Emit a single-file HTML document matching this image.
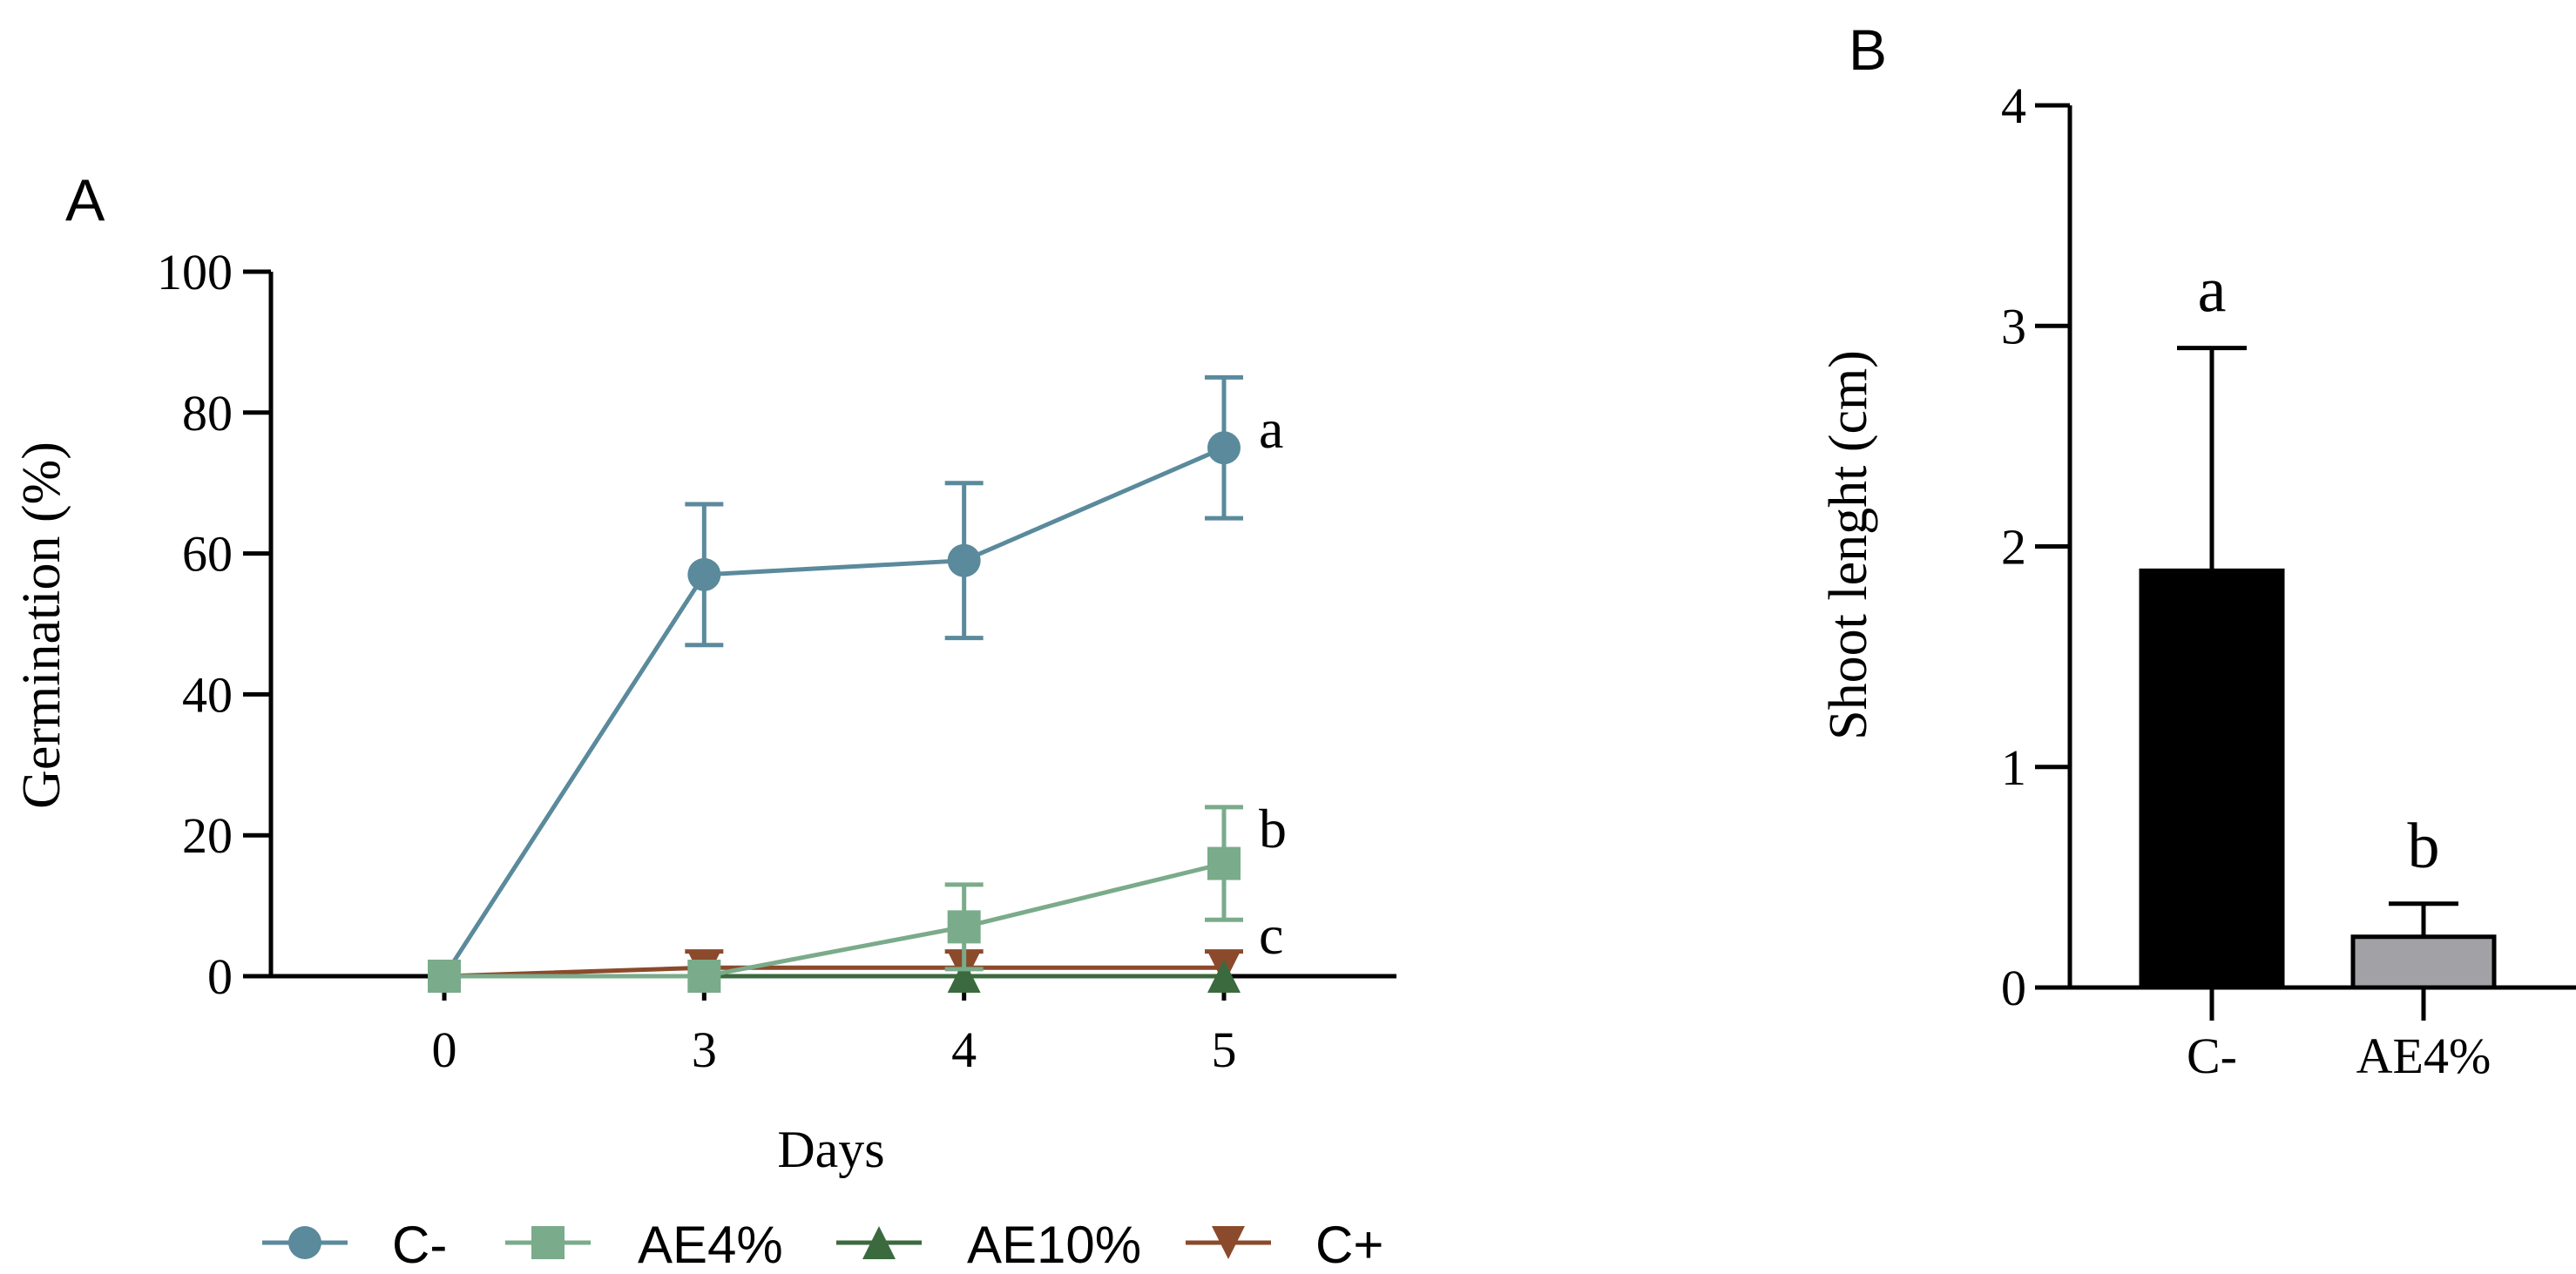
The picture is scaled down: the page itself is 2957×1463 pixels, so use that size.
<!DOCTYPE html>
<html><head><meta charset="utf-8"><style>
html,body{margin:0;padding:0;background:#fff;}
svg{display:block;}
.serif{font-family:"Liberation Serif",serif;}
.sans{font-family:"Liberation Sans",sans-serif;}
</style></head><body>
<svg id="chart" width="2957" height="1463" viewBox="0 0 2957 1463" xmlns="http://www.w3.org/2000/svg">
<text x="75" y="253" class="sans" font-size="68">A</text>
<text x="2122" y="80" class="sans" font-size="66">B</text>
<g id="gA"></g>
<g id="gB"></g>
</svg>
<script>
const days = ["0","3","4","5"];
const yTicksA = [0,20,40,60,80,100];
const cMinus = [0,57,59,75];
const cMinusErr = [0,10,11,10];
const ae4 = [0,0,7,16];
const ae4Err = [0,0,6,8];
const ae10 = [0,0,0,0];
const ae10Err = [0,0,0,0];
const cPlus = [0,1.2,1.2,1.2];
const cPlusErr = [0,2.3,2.3,2.3];
const sigA = ["a","b","c"];
const barCats = ["C-","AE4%"];
const barVals = [1.89,0.23];
const barErr = [1.01,0.15];
const barSig = ["a","b"];
const yTicksB = [0,1,2,3,4];

const NS="http://www.w3.org/2000/svg";
function mk(p,tag,attrs,txt){const e=document.createElementNS(NS,tag);for(const k in attrs)e.setAttribute(k,attrs[k]);if(txt!==undefined)e.textContent=txt;p.appendChild(e);return e;}

const gA=document.getElementById('gA');
const ax0=311, axEnd=1603, y0=1121, y100=312;
const xPos=[510,808,1106,1405];
const xA=i=>xPos[0]+(xPos[3]-xPos[0])*(i===0?0:(Number(days[i])-2)/3);
const yA=v=>y0-(y0-y100)*v/100;
let e;
e=mk(gA,'line',{x1:ax0,y1:y100,x2:ax0,y2:y0,stroke:'#000','stroke-width':5});


yTicksA.forEach(t=>{
  e=mk(gA,'line',{x1:ax0-32,y1:yA(t),x2:ax0,y2:yA(t),stroke:'#000','stroke-width':5});
  
  
  e=mk(gA,'text',{x:ax0-44,y:yA(t)+20,'text-anchor':'end','font-size':58,class:'serif'},String(t));
  
  
});
e=mk(gA,'text',{x:0,y:0,transform:'translate(68,718) rotate(-90)','text-anchor':'middle','font-size':62,class:'serif'},'Germination (%)');


e=mk(gA,'text',{x:954,y:1340,'text-anchor':'middle','font-size':60,class:'serif'},'Days');



const series=[
 {name:'c-minus',vals:cMinus,err:cMinusErr,col:'#5a8a9c',mark:'circle'},
 {name:'c-plus',vals:cPlus,err:cPlusErr,col:'#8b4a2b',mark:'down'},
 {name:'ae10',vals:ae10,err:ae10Err,col:'#3b6a3e',mark:'up'},
 {name:'ae4',vals:ae4,err:ae4Err,col:'#7aab8a',mark:'square'},
];
function marker(g,type,x,y,col,s){
  if(type==='circle') return mk(g,'circle',{cx:x,cy:y,r:s/2,fill:col});
  if(type==='square') return mk(g,'rect',{x:x-s/2,y:y-s/2,width:s,height:s,fill:col});
  if(type==='up') return mk(g,'polygon',{points:`${x},${y-s/2} ${x+s/2},${y+s/2} ${x-s/2},${y+s/2}`,fill:col});
  return mk(g,'polygon',{points:`${x-s/2},${y-s/2} ${x+s/2},${y-s/2} ${x},${y+s/2}`,fill:col});
}
e=mk(gA,'line',{x1:ax0,y1:y0,x2:axEnd,y2:y0,stroke:'#000','stroke-width':5});


days.forEach((d,i)=>{
  e=mk(gA,'line',{x1:xA(i),y1:y0,x2:xA(i),y2:y0+28,stroke:'#000','stroke-width':5});
  
  
  e=mk(gA,'text',{x:xA(i),y:1225,'text-anchor':'middle','font-size':58,class:'serif'},d);
  
  
});
series.forEach(s=>{
  const g=mk(gA,'g',{});
  
  
  s.vals.forEach((v,i)=>{
    if(s.err[i]>0){
      const top=yA(v+s.err[i]), bot=yA(Math.max(0,v-s.err[i]));
      e=mk(g,'path',{d:`M${xA(i)},${top}V${bot}M${xA(i)-22},${top}H${xA(i)+22}`+(v-s.err[i]>0?`M${xA(i)-22},${bot}H${xA(i)+22}`:''),stroke:s.col,'stroke-width':5,fill:'none'});
      
      
    }
  });
  e=mk(g,'polyline',{points:s.vals.map((v,i)=>xA(i)+','+yA(v)).join(' '),stroke:s.col,'stroke-width':5,fill:'none'});
  
  
  s.vals.forEach((v,i)=>{
    e=marker(g,s.mark,xA(i),yA(v),s.col,38);
    
    
  });
});
[514,973,1095].forEach((yy,k)=>{
  e=mk(gA,'text',{x:1445,y:yy,'font-size':64,class:'serif'},sigA[k]);
  
  
});
const leg=[['C-','#5a8a9c','circle',301,450],['AE4%','#7aab8a','square',580,732],['AE10%','#3b6a3e','up',960,1110],['C+','#8b4a2b','down',1361,1510]];
leg.forEach(l=>{
  const g=mk(gA,'g',{});
  
  
  mk(g,'line',{x1:l[3],y1:1427,x2:l[3]+98,y2:1427,stroke:l[1],'stroke-width':5});
  marker(g,l[2],l[3]+49,1427,l[1],38);
  mk(g,'text',{x:l[4],y:1450,'font-size':60,class:'sans'},l[0]);
});

const gB=document.getElementById('gB');
const bx0=2376, by0=1134, by4=121, bxEnd=2957;
const yB=v=>by0-(by0-by4)*v/4;
const bCenters=[2539,2782], bw=162;
e=mk(gB,'line',{x1:bx0,y1:by4,x2:bx0,y2:by0,stroke:'#000','stroke-width':5});


yTicksB.forEach(t=>{
  e=mk(gB,'line',{x1:bx0-40,y1:yB(t),x2:bx0,y2:yB(t),stroke:'#000','stroke-width':5});
  
  
  e=mk(gB,'text',{x:2326,y:yB(t)+20,'text-anchor':'end','font-size':58,class:'serif'},String(t));
  
  
});
e=mk(gB,'text',{x:0,y:0,transform:'translate(2142,626) rotate(-90)','text-anchor':'middle','font-size':62,class:'serif'},'Shoot lenght (cm)');


barVals.forEach((v,i)=>{
  const cx=bCenters[i];
  e=mk(gB,'line',{x1:cx,y1:yB(v),x2:cx,y2:yB(v+barErr[i]),stroke:'#000','stroke-width':5});
  
  
  e=mk(gB,'line',{x1:cx-40,y1:yB(v+barErr[i]),x2:cx+40,y2:yB(v+barErr[i]),stroke:'#000','stroke-width':5});
  
  
  e=mk(gB,'rect',{x:cx-bw/2,y:yB(v),width:bw,height:by0-yB(v),fill:i===0?'#000':'#a2a2a6',stroke:'#000','stroke-width':5});
  
  
  e=mk(gB,'text',{x:cx,y:yB(v+barErr[i])-42,'text-anchor':'middle','font-size':74,class:'serif'},barSig[i]);
  
  
  e=mk(gB,'line',{x1:cx,y1:by0,x2:cx,y2:1172,stroke:'#000','stroke-width':5});
  
  
  e=mk(gB,'text',{x:cx,y:1232,'text-anchor':'middle','font-size':58,class:'serif'},barCats[i]);
  
  
});
e=mk(gB,'line',{x1:bx0-40,y1:by0,x2:bxEnd,y2:by0,stroke:'#000','stroke-width':5});


</script>
</body></html>
